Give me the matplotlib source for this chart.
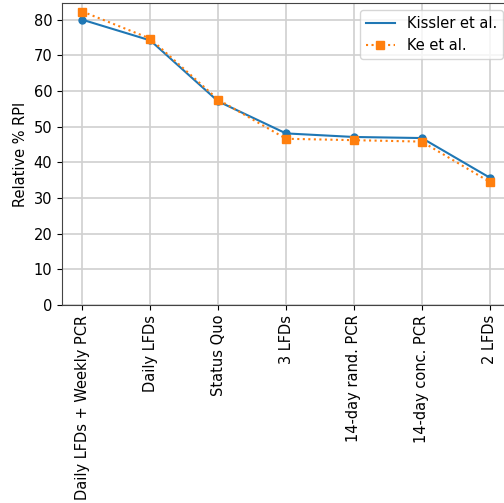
import matplotlib
matplotlib.use("Agg")
import matplotlib.pyplot as plt

strategies = ["Daily LFDs + Weekly PCR", "Daily LFDs", "Status Quo", "3 LFDs",
              "14-day rand. PCR", "14-day conc. PCR", "2 LFDs"]
kissler = [80.0, 74.2, 57.1, 48.1, 47.1, 46.8, 35.7]
ke = [82.3, 74.7, 57.6, 46.6, 46.2, 45.8, 34.5]

plt.rcParams["font.size"] = 10.5

fig = plt.figure(figsize=(5.04, 5.03), dpi=100)
ax = fig.add_axes([0.123, 0.394, 0.889, 0.600])

x = range(len(strategies))
ax.plot(x, kissler, color="tab:blue", linestyle="-", label="Kissler et al.")
ax.plot(x, kissler, color="tab:blue", linestyle="none", marker="o", markersize=5)
ax.plot(x, ke, color="tab:orange", linestyle=":", marker="s", markersize=6,
        label="Ke et al.")

ax.set_ylim(bottom=0)
ax.set_xticks(list(x))
ax.set_xticklabels(strategies, rotation=90)
ax.set_ylabel("Relative % RPI")
ax.grid(True, color="#d0d0d0", linewidth=1.2)
for s in ax.spines.values():
    s.set_color("#444444")
ax.legend(loc="upper right")

plt.savefig("out.png", dpi=100)
